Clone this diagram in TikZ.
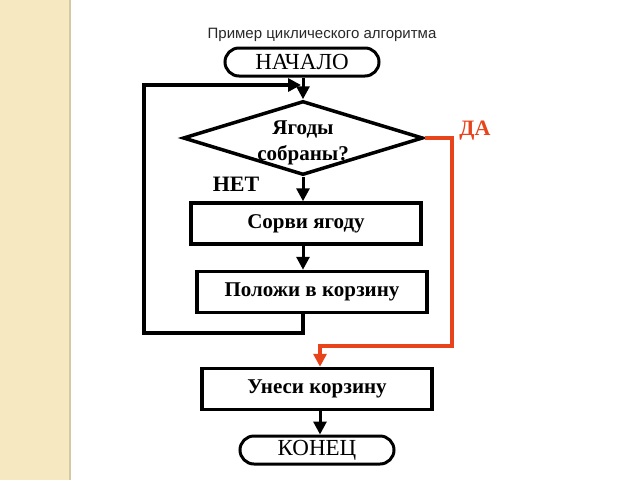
\documentclass[tikz,border=0pt]{standalone}
\usepackage{fontspec}
\setmainfont{Liberation Serif}
\newfontfamily\titlefont{Liberation Sans}
\usetikzlibrary{shapes.geometric,shapes.misc,arrows.meta}
\definecolor{stripe}{RGB}{246,232,193}
\definecolor{stripeedge}{RGB}{215,200,165}
\definecolor{yesred}{RGB}{232,68,28}
\definecolor{titlegray}{RGB}{40,40,40}
\begin{document}
\begin{tikzpicture}[x=1pt,y=-1pt,
  term/.style={rounded rectangle, draw, line width=3pt, minimum width=154pt, minimum height=28pt, inner sep=0pt, font=\fontsize{23}{23}\selectfont},
  proc/.style={rectangle, draw, line width=3.5pt, minimum width=230pt, minimum height=41pt, inner sep=0pt, font=\bfseries\fontsize{21}{24}\selectfont},
  decision/.style={diamond, draw, line width=3.5pt, minimum width=240pt, minimum height=74pt, inner sep=0pt},
  dectext/.style={align=center, inner sep=0pt, font=\bfseries\fontsize{21}{26}\selectfont},
  tip/.style={-{Triangle[length=13pt,width=13pt]}},
  arr/.style={line width=3pt, tip},
  lbl/.style={font=\bfseries\fontsize{22}{22}\selectfont},
]
\useasboundingbox (0,0) rectangle (640,480);
\fill[stripe] (0,0) rectangle (70,480);
\draw[stripeedge, line width=1.5pt] (70,0) -- (70,480);

\node[font=\titlefont\fontsize{15}{15}\selectfont, text=titlegray] (title) at (322,35) {Пример циклического алгоритма};

\node[term] (start) at (302,62) {НАЧАЛО};
\node[decision] (dec) at (303,138) {};
\node[dectext] (dect) at (303,143) {Ягоды\\собраны?};
\node[proc] (pick) at (306,223.5) {Сорви ягоду};
\node[proc] (put) at (312,292) {Положи в корзину};
\node[proc] (take) at (317,389) {Унеси корзину};
\node[term] (end) at (317,450) {КОНЕЦ};

\node[lbl] (no) at (236,184) {НЕТ};
\node[lbl, text=yesred] (yes) at (475,131) {ДА};

\coordinate (col) at (303,0);
\coordinate (lb) at (144,333);
\coordinate (loopin) at (301,85);
\coordinate (rturn) at (452,346);
\coordinate (rdrop) at (320,346);

\draw[arr] (start.south -| col) -- (dec.north);
\draw[arr] (dec.south) -- (pick.north -| col);
\draw[arr] (pick.south -| col) -- (put.north -| col);
\draw[line width=3.5pt, tip] (put.south -| col) |- (lb) |- (loopin);
\draw[yesred, line width=4pt, tip] (dec.east) -| (rturn) -- (rdrop) -- (rdrop |- take.north);
\draw[arr] (take.south -| rdrop) -- (end.north -| rdrop);
\end{tikzpicture}
\end{document}
